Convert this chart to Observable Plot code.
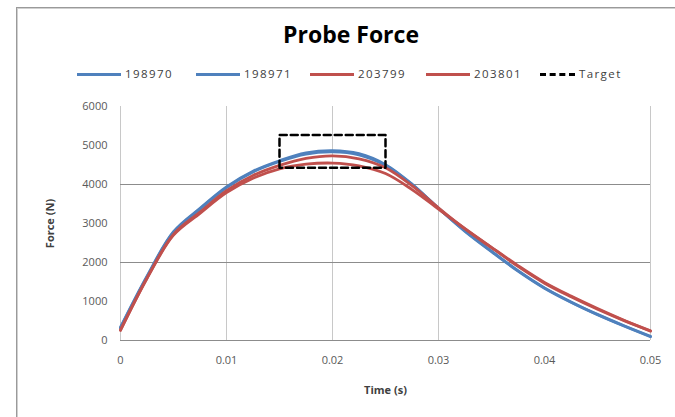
<!DOCTYPE html>
<html>
<head>
<meta charset="utf-8">
<script src="https://cdn.jsdelivr.net/npm/d3@7"></script>
<script src="https://cdn.jsdelivr.net/npm/@observablehq/plot@0.6"></script>
<style>
  html, body { margin: 0; padding: 0; background: #fff; }
  #wrap { position: relative; width: 675px; height: 417px; overflow: hidden; font-family: "Open Sans", "Liberation Sans", sans-serif; }
  #frame { position: absolute; left: 16px; top: 7px; width: 700px; height: 460px; border: 1px solid #9a9a9a; box-shadow: inset 1px 1px 0 #d0d0d0; }
  #title { position: absolute; left: 0; width: 702px; top: 18px; text-align: center; font-size: 23px; font-weight: 700; color: #000; }
  #legend { position: absolute; left: 0; top: 64px; width: 675px; height: 20px; }
  .item { position: absolute; top: 0; font-size: 11.5px; letter-spacing: 1.4px; color: #404040; line-height: 20px; white-space: nowrap; }
  .swatch { display: inline-block; vertical-align: middle; width: 44px; height: 0; margin-right: 4px; }
  #chart { position: absolute; left: 0; top: 90px; }
</style>
</head>
<body>
<div id="wrap">
  <div id="frame"></div>
  <div id="title"></div>
  <div id="legend"></div>
  <div id="chart"></div>
</div>
<script>
const title = "Probe Force";
const xLabel = "Time (s)";
const yLabel = "Force (N)";
const seriesNames = ["198970", "198971", "203799", "203801"];
const seriesColors = ["#4f81bd", "#4f81bd", "#c0504d", "#c0504d"];
const targetName = "Target";

const time = [0, 0.0025, 0.005, 0.0075, 0.01, 0.0125, 0.015, 0.0175, 0.02, 0.0225, 0.025,
              0.0275, 0.03, 0.0325, 0.035, 0.0375, 0.04, 0.0425, 0.045, 0.0475, 0.05];
const s198970 = [340, 1650, 2790, 3390, 3940, 4340, 4610, 4810, 4870, 4790, 4510,
                 4010, 3390, 2810, 2290, 1790, 1350, 990, 670, 380, 110];
const s198971 = [320, 1630, 2770, 3370, 3920, 4320, 4590, 4780, 4835, 4760, 4490,
                 4000, 3390, 2800, 2280, 1780, 1340, 980, 660, 370, 95];
const s203799 = [260, 1600, 2720, 3290, 3840, 4230, 4490, 4670, 4735, 4660, 4430,
                 3970, 3400, 2860, 2380, 1900, 1470, 1120, 800, 510, 250];
const s203801 = [270, 1590, 2700, 3260, 3790, 4160, 4400, 4520, 4550, 4480, 4280,
                 3870, 3370, 2870, 2390, 1920, 1490, 1140, 820, 520, 240];
const seriesValues = [s198970, s198971, s203799, s203801];

const targetT = [0.015, 0.015, 0.025, 0.025, 0.015];
const targetF = [4430, 5270, 5270, 4430, 4430];

const xTicks = [0, 0.01, 0.02, 0.03, 0.04, 0.05];
const xTickLabels = ["0", "0.01", "0.02", "0.03", "0.04", "0.05"];
const yTicks = [0, 1000, 2000, 3000, 4000, 5000, 6000];
const xGrid = [0.01, 0.02, 0.03, 0.05];
const yGrid = [2000, 4000];

document.getElementById("title").textContent = title;

// legend
const legend = document.getElementById("legend");
const legendX = [77, 196, 310, 426, 540];
seriesNames.forEach((n, i) => {
  const d = document.createElement("div");
  d.className = "item";
  d.style.left = legendX[i] + "px";
  d.innerHTML = `<span class="swatch" style="border-top:3px solid ${seriesColors[i]}"></span>${n}`;
  legend.appendChild(d);
});
{
  const d = document.createElement("div");
  d.className = "item";
  d.style.left = legendX[4] + "px";
  d.innerHTML = `<span class="swatch" style="width:35px;border-top:3px dashed #000"></span>${targetName}`;
  legend.appendChild(d);
}

const rows = [];
seriesNames.forEach((n, i) => time.forEach((t, j) => rows.push({series: n, t, f: seriesValues[i][j]})));
const target = targetT.map((t, i) => ({t, f: targetF[i]}));

const chart = Plot.plot({
  width: 675,
  height: 327,
  marginLeft: 120,
  marginRight: 25,
  marginTop: 16,
  marginBottom: 77,
  style: {fontFamily: "'Open Sans', 'Liberation Sans', sans-serif", fontSize: "11px", color: "#595959", background: "transparent"},
  x: {domain: [0, 0.05]},
  y: {domain: [0, 6000]},
  color: {domain: seriesNames, range: seriesColors},
  marks: [
    Plot.ruleX(xGrid, {stroke: "#c8c8c8", strokeWidth: 1}),
    Plot.ruleX([0], {stroke: "#c8c8c8", strokeWidth: 1}),
    Plot.ruleY(yGrid, {stroke: "#8c8c8c", strokeWidth: 1}),
    Plot.ruleY([0], {stroke: "#8c8c8c", strokeWidth: 1}),
    Plot.axisX(xTicks, {tickSize: 0, tickPadding: 16, tickFormat: (d, i) => xTickLabels[i], label: null, fill: "#595959"}),
    Plot.axisY(yTicks, {tickSize: 0, tickPadding: 13, tickFormat: d => String(d), label: null, fill: "#595959"}),
    Plot.line(rows, {x: "t", y: "f", z: "series", stroke: "series", strokeWidth: 2.8, curve: "catmull-rom"}),
    Plot.line(target, {x: "t", y: "f", stroke: "#000", strokeWidth: 2.5, strokeDasharray: "7,4"}),
    Plot.text([xLabel], {frameAnchor: "bottom", dy: 53, fontWeight: "bold", fill: "#404040", fontSize: 11}),
    Plot.text([yLabel], {frameAnchor: "left", textAnchor: "middle", dx: -70, rotate: -90, fontWeight: "bold", fill: "#404040", fontSize: 11})
  ]
});
document.getElementById("chart").appendChild(chart);
</script>
</body>
</html>
